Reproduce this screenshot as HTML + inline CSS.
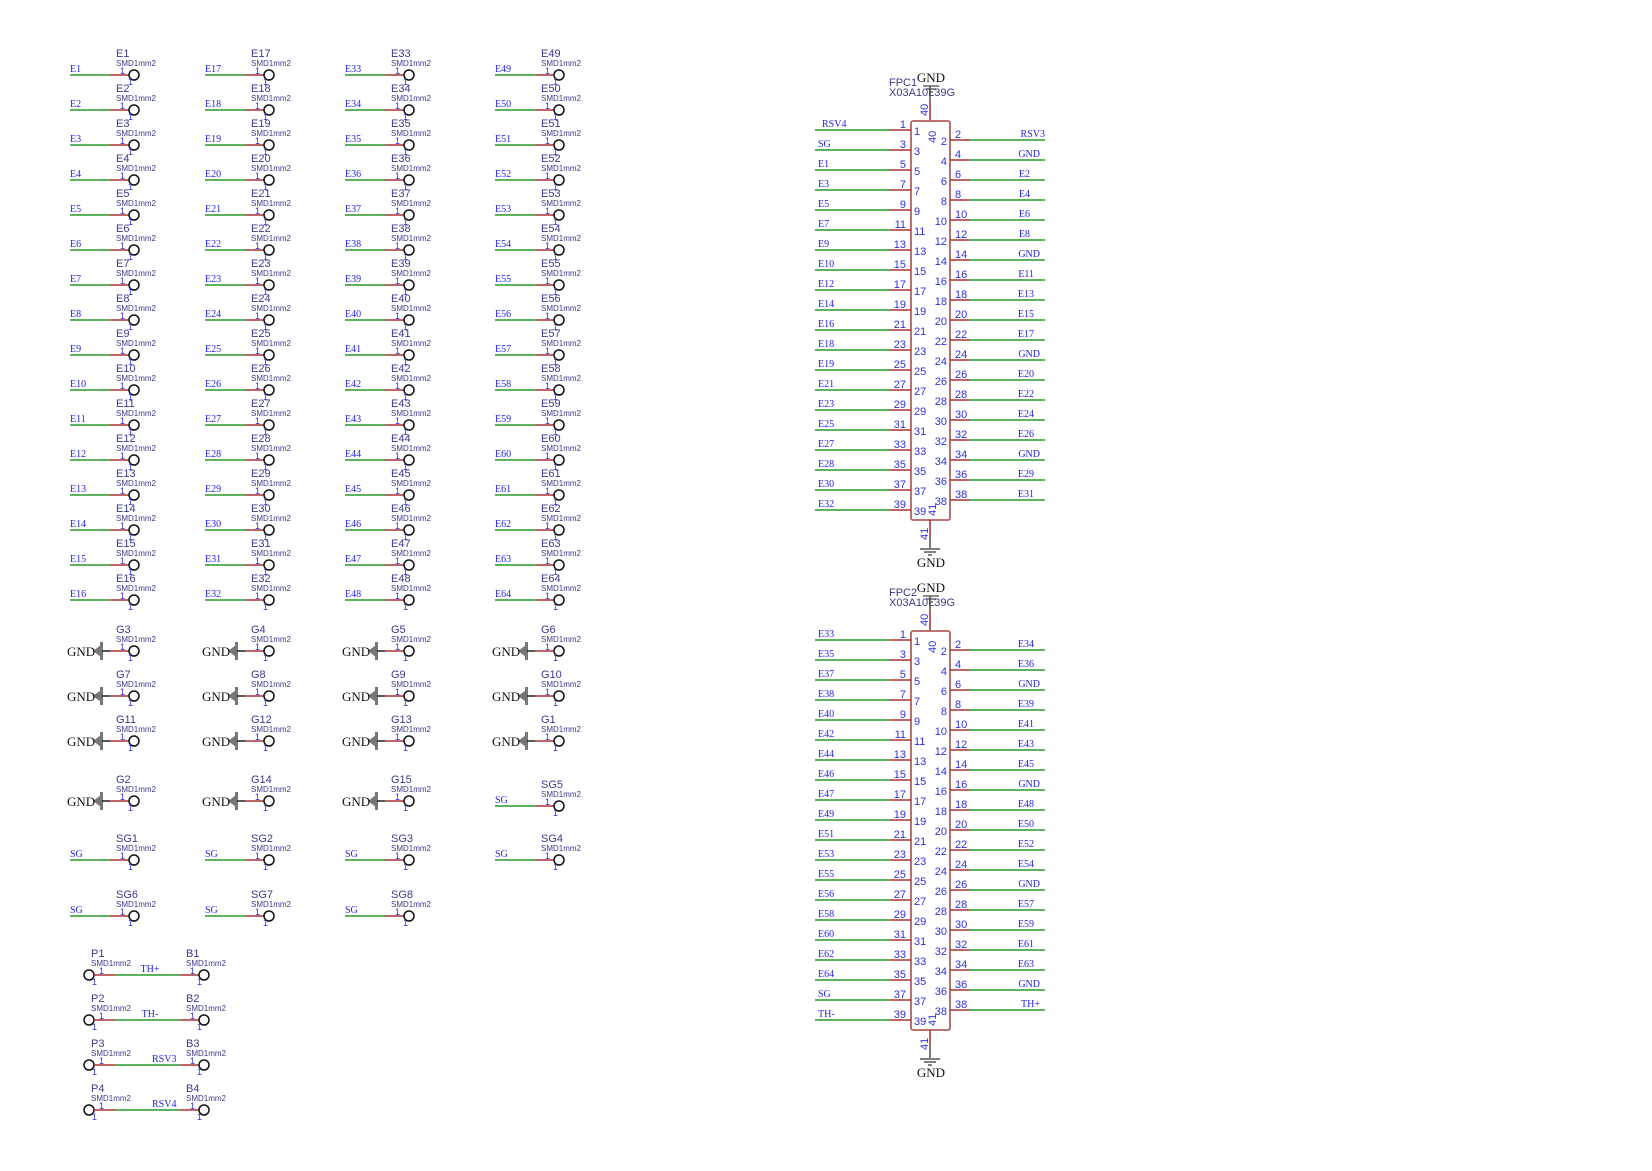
<!DOCTYPE html>
<html><head><meta charset="utf-8"><style>
html,body{margin:0;padding:0;background:#fff}
svg{display:block}
.g{stroke:#2a9a2a;stroke-width:1.6}
.r{stroke:#a83434;stroke-width:1.6}
.k{stroke:#111;stroke-width:1.4}
text{font-family:"Liberation Sans",sans-serif}
.l{font-family:"Liberation Serif",serif;font-size:10px;fill:#2424e0}
.le{font-family:"Liberation Serif",serif;font-size:10px;fill:#2424e0;text-anchor:end}
.lm{font-family:"Liberation Serif",serif;font-size:10px;fill:#2424e0;text-anchor:middle}
.n{font-size:11px;fill:#3a3a8c}
.s{font-size:8px;fill:#3a3a8c}
.p{font-size:9px;fill:#3030e0}
.pc{font-size:11px;fill:#3030e0}
.pe{font-size:11px;fill:#3030e0;text-anchor:end}
.gt{font-family:"Liberation Serif",serif;font-size:13px;fill:#111}
.gm{font-family:"Liberation Serif",serif;font-size:13px;fill:#111;text-anchor:middle}
</style></head><body>
<svg width="1652" height="1171" viewBox="0 0 1652 1171" xmlns="http://www.w3.org/2000/svg">
<defs>
<g id="pd"><line x1="0" x2="40" y1="0" y2="0" class="g"/><line x1="40" x2="59" y1="0" y2="0" class="r"/><circle cx="64" cy="0" r="5" fill="none" stroke="#111" stroke-width="1.5"/></g>
<g id="gd"><polygon points="23,0 31,-6 31,6" fill="#777"/><rect x="30" y="-9" width="3" height="18" fill="#777"/><line x1="32" x2="40" y1="0" y2="0" class="k"/><line x1="40" x2="59" y1="0" y2="0" class="r"/><circle cx="64" cy="0" r="5" fill="none" stroke="#111" stroke-width="1.5"/></g>
<g id="lp"><line x1="815" x2="890" y1="0" y2="0" class="g"/><line x1="890" x2="911" y1="0" y2="0" class="r"/></g>
<g id="rp"><line x1="950" x2="970" y1="0" y2="0" class="r"/><line x1="970" x2="1045" y1="0" y2="0" class="g"/></g>
</defs>

<!-- Column 1 -->
<g transform="translate(70,75)"><use href="#pd"/><text class="l" y="-3">E1</text><text class="n" x="46" y="-18">E1</text><text class="s" x="46" y="-9">SMD1mm2</text><text class="p" x="50" y="-1">1</text><text class="p" x="58" y="10">1</text></g>
<g transform="translate(70,110)"><use href="#pd"/><text class="l" y="-3">E2</text><text class="n" x="46" y="-18">E2</text><text class="s" x="46" y="-9">SMD1mm2</text><text class="p" x="50" y="-1">1</text><text class="p" x="58" y="10">1</text></g>
<g transform="translate(70,145)"><use href="#pd"/><text class="l" y="-3">E3</text><text class="n" x="46" y="-18">E3</text><text class="s" x="46" y="-9">SMD1mm2</text><text class="p" x="50" y="-1">1</text><text class="p" x="58" y="10">1</text></g>
<g transform="translate(70,180)"><use href="#pd"/><text class="l" y="-3">E4</text><text class="n" x="46" y="-18">E4</text><text class="s" x="46" y="-9">SMD1mm2</text><text class="p" x="50" y="-1">1</text><text class="p" x="58" y="10">1</text></g>
<g transform="translate(70,215)"><use href="#pd"/><text class="l" y="-3">E5</text><text class="n" x="46" y="-18">E5</text><text class="s" x="46" y="-9">SMD1mm2</text><text class="p" x="50" y="-1">1</text><text class="p" x="58" y="10">1</text></g>
<g transform="translate(70,250)"><use href="#pd"/><text class="l" y="-3">E6</text><text class="n" x="46" y="-18">E6</text><text class="s" x="46" y="-9">SMD1mm2</text><text class="p" x="50" y="-1">1</text><text class="p" x="58" y="10">1</text></g>
<g transform="translate(70,285)"><use href="#pd"/><text class="l" y="-3">E7</text><text class="n" x="46" y="-18">E7</text><text class="s" x="46" y="-9">SMD1mm2</text><text class="p" x="50" y="-1">1</text><text class="p" x="58" y="10">1</text></g>
<g transform="translate(70,320)"><use href="#pd"/><text class="l" y="-3">E8</text><text class="n" x="46" y="-18">E8</text><text class="s" x="46" y="-9">SMD1mm2</text><text class="p" x="50" y="-1">1</text><text class="p" x="58" y="10">1</text></g>
<g transform="translate(70,355)"><use href="#pd"/><text class="l" y="-3">E9</text><text class="n" x="46" y="-18">E9</text><text class="s" x="46" y="-9">SMD1mm2</text><text class="p" x="50" y="-1">1</text><text class="p" x="58" y="10">1</text></g>
<g transform="translate(70,390)"><use href="#pd"/><text class="l" y="-3">E10</text><text class="n" x="46" y="-18">E10</text><text class="s" x="46" y="-9">SMD1mm2</text><text class="p" x="50" y="-1">1</text><text class="p" x="58" y="10">1</text></g>
<g transform="translate(70,425)"><use href="#pd"/><text class="l" y="-3">E11</text><text class="n" x="46" y="-18">E11</text><text class="s" x="46" y="-9">SMD1mm2</text><text class="p" x="50" y="-1">1</text><text class="p" x="58" y="10">1</text></g>
<g transform="translate(70,460)"><use href="#pd"/><text class="l" y="-3">E12</text><text class="n" x="46" y="-18">E12</text><text class="s" x="46" y="-9">SMD1mm2</text><text class="p" x="50" y="-1">1</text><text class="p" x="58" y="10">1</text></g>
<g transform="translate(70,495)"><use href="#pd"/><text class="l" y="-3">E13</text><text class="n" x="46" y="-18">E13</text><text class="s" x="46" y="-9">SMD1mm2</text><text class="p" x="50" y="-1">1</text><text class="p" x="58" y="10">1</text></g>
<g transform="translate(70,530)"><use href="#pd"/><text class="l" y="-3">E14</text><text class="n" x="46" y="-18">E14</text><text class="s" x="46" y="-9">SMD1mm2</text><text class="p" x="50" y="-1">1</text><text class="p" x="58" y="10">1</text></g>
<g transform="translate(70,565)"><use href="#pd"/><text class="l" y="-3">E15</text><text class="n" x="46" y="-18">E15</text><text class="s" x="46" y="-9">SMD1mm2</text><text class="p" x="50" y="-1">1</text><text class="p" x="58" y="10">1</text></g>
<g transform="translate(70,600)"><use href="#pd"/><text class="l" y="-3">E16</text><text class="n" x="46" y="-18">E16</text><text class="s" x="46" y="-9">SMD1mm2</text><text class="p" x="50" y="-1">1</text><text class="p" x="58" y="10">1</text></g>

<!-- Column 2 -->
<g transform="translate(205,75)"><use href="#pd"/><text class="l" y="-3">E17</text><text class="n" x="46" y="-18">E17</text><text class="s" x="46" y="-9">SMD1mm2</text><text class="p" x="50" y="-1">1</text><text class="p" x="58" y="10">1</text></g>
<g transform="translate(205,110)"><use href="#pd"/><text class="l" y="-3">E18</text><text class="n" x="46" y="-18">E18</text><text class="s" x="46" y="-9">SMD1mm2</text><text class="p" x="50" y="-1">1</text><text class="p" x="58" y="10">1</text></g>
<g transform="translate(205,145)"><use href="#pd"/><text class="l" y="-3">E19</text><text class="n" x="46" y="-18">E19</text><text class="s" x="46" y="-9">SMD1mm2</text><text class="p" x="50" y="-1">1</text><text class="p" x="58" y="10">1</text></g>
<g transform="translate(205,180)"><use href="#pd"/><text class="l" y="-3">E20</text><text class="n" x="46" y="-18">E20</text><text class="s" x="46" y="-9">SMD1mm2</text><text class="p" x="50" y="-1">1</text><text class="p" x="58" y="10">1</text></g>
<g transform="translate(205,215)"><use href="#pd"/><text class="l" y="-3">E21</text><text class="n" x="46" y="-18">E21</text><text class="s" x="46" y="-9">SMD1mm2</text><text class="p" x="50" y="-1">1</text><text class="p" x="58" y="10">1</text></g>
<g transform="translate(205,250)"><use href="#pd"/><text class="l" y="-3">E22</text><text class="n" x="46" y="-18">E22</text><text class="s" x="46" y="-9">SMD1mm2</text><text class="p" x="50" y="-1">1</text><text class="p" x="58" y="10">1</text></g>
<g transform="translate(205,285)"><use href="#pd"/><text class="l" y="-3">E23</text><text class="n" x="46" y="-18">E23</text><text class="s" x="46" y="-9">SMD1mm2</text><text class="p" x="50" y="-1">1</text><text class="p" x="58" y="10">1</text></g>
<g transform="translate(205,320)"><use href="#pd"/><text class="l" y="-3">E24</text><text class="n" x="46" y="-18">E24</text><text class="s" x="46" y="-9">SMD1mm2</text><text class="p" x="50" y="-1">1</text><text class="p" x="58" y="10">1</text></g>
<g transform="translate(205,355)"><use href="#pd"/><text class="l" y="-3">E25</text><text class="n" x="46" y="-18">E25</text><text class="s" x="46" y="-9">SMD1mm2</text><text class="p" x="50" y="-1">1</text><text class="p" x="58" y="10">1</text></g>
<g transform="translate(205,390)"><use href="#pd"/><text class="l" y="-3">E26</text><text class="n" x="46" y="-18">E26</text><text class="s" x="46" y="-9">SMD1mm2</text><text class="p" x="50" y="-1">1</text><text class="p" x="58" y="10">1</text></g>
<g transform="translate(205,425)"><use href="#pd"/><text class="l" y="-3">E27</text><text class="n" x="46" y="-18">E27</text><text class="s" x="46" y="-9">SMD1mm2</text><text class="p" x="50" y="-1">1</text><text class="p" x="58" y="10">1</text></g>
<g transform="translate(205,460)"><use href="#pd"/><text class="l" y="-3">E28</text><text class="n" x="46" y="-18">E28</text><text class="s" x="46" y="-9">SMD1mm2</text><text class="p" x="50" y="-1">1</text><text class="p" x="58" y="10">1</text></g>
<g transform="translate(205,495)"><use href="#pd"/><text class="l" y="-3">E29</text><text class="n" x="46" y="-18">E29</text><text class="s" x="46" y="-9">SMD1mm2</text><text class="p" x="50" y="-1">1</text><text class="p" x="58" y="10">1</text></g>
<g transform="translate(205,530)"><use href="#pd"/><text class="l" y="-3">E30</text><text class="n" x="46" y="-18">E30</text><text class="s" x="46" y="-9">SMD1mm2</text><text class="p" x="50" y="-1">1</text><text class="p" x="58" y="10">1</text></g>
<g transform="translate(205,565)"><use href="#pd"/><text class="l" y="-3">E31</text><text class="n" x="46" y="-18">E31</text><text class="s" x="46" y="-9">SMD1mm2</text><text class="p" x="50" y="-1">1</text><text class="p" x="58" y="10">1</text></g>
<g transform="translate(205,600)"><use href="#pd"/><text class="l" y="-3">E32</text><text class="n" x="46" y="-18">E32</text><text class="s" x="46" y="-9">SMD1mm2</text><text class="p" x="50" y="-1">1</text><text class="p" x="58" y="10">1</text></g>

<!-- Column 3 -->
<g transform="translate(345,75)"><use href="#pd"/><text class="l" y="-3">E33</text><text class="n" x="46" y="-18">E33</text><text class="s" x="46" y="-9">SMD1mm2</text><text class="p" x="50" y="-1">1</text><text class="p" x="58" y="10">1</text></g>
<g transform="translate(345,110)"><use href="#pd"/><text class="l" y="-3">E34</text><text class="n" x="46" y="-18">E34</text><text class="s" x="46" y="-9">SMD1mm2</text><text class="p" x="50" y="-1">1</text><text class="p" x="58" y="10">1</text></g>
<g transform="translate(345,145)"><use href="#pd"/><text class="l" y="-3">E35</text><text class="n" x="46" y="-18">E35</text><text class="s" x="46" y="-9">SMD1mm2</text><text class="p" x="50" y="-1">1</text><text class="p" x="58" y="10">1</text></g>
<g transform="translate(345,180)"><use href="#pd"/><text class="l" y="-3">E36</text><text class="n" x="46" y="-18">E36</text><text class="s" x="46" y="-9">SMD1mm2</text><text class="p" x="50" y="-1">1</text><text class="p" x="58" y="10">1</text></g>
<g transform="translate(345,215)"><use href="#pd"/><text class="l" y="-3">E37</text><text class="n" x="46" y="-18">E37</text><text class="s" x="46" y="-9">SMD1mm2</text><text class="p" x="50" y="-1">1</text><text class="p" x="58" y="10">1</text></g>
<g transform="translate(345,250)"><use href="#pd"/><text class="l" y="-3">E38</text><text class="n" x="46" y="-18">E38</text><text class="s" x="46" y="-9">SMD1mm2</text><text class="p" x="50" y="-1">1</text><text class="p" x="58" y="10">1</text></g>
<g transform="translate(345,285)"><use href="#pd"/><text class="l" y="-3">E39</text><text class="n" x="46" y="-18">E39</text><text class="s" x="46" y="-9">SMD1mm2</text><text class="p" x="50" y="-1">1</text><text class="p" x="58" y="10">1</text></g>
<g transform="translate(345,320)"><use href="#pd"/><text class="l" y="-3">E40</text><text class="n" x="46" y="-18">E40</text><text class="s" x="46" y="-9">SMD1mm2</text><text class="p" x="50" y="-1">1</text><text class="p" x="58" y="10">1</text></g>
<g transform="translate(345,355)"><use href="#pd"/><text class="l" y="-3">E41</text><text class="n" x="46" y="-18">E41</text><text class="s" x="46" y="-9">SMD1mm2</text><text class="p" x="50" y="-1">1</text><text class="p" x="58" y="10">1</text></g>
<g transform="translate(345,390)"><use href="#pd"/><text class="l" y="-3">E42</text><text class="n" x="46" y="-18">E42</text><text class="s" x="46" y="-9">SMD1mm2</text><text class="p" x="50" y="-1">1</text><text class="p" x="58" y="10">1</text></g>
<g transform="translate(345,425)"><use href="#pd"/><text class="l" y="-3">E43</text><text class="n" x="46" y="-18">E43</text><text class="s" x="46" y="-9">SMD1mm2</text><text class="p" x="50" y="-1">1</text><text class="p" x="58" y="10">1</text></g>
<g transform="translate(345,460)"><use href="#pd"/><text class="l" y="-3">E44</text><text class="n" x="46" y="-18">E44</text><text class="s" x="46" y="-9">SMD1mm2</text><text class="p" x="50" y="-1">1</text><text class="p" x="58" y="10">1</text></g>
<g transform="translate(345,495)"><use href="#pd"/><text class="l" y="-3">E45</text><text class="n" x="46" y="-18">E45</text><text class="s" x="46" y="-9">SMD1mm2</text><text class="p" x="50" y="-1">1</text><text class="p" x="58" y="10">1</text></g>
<g transform="translate(345,530)"><use href="#pd"/><text class="l" y="-3">E46</text><text class="n" x="46" y="-18">E46</text><text class="s" x="46" y="-9">SMD1mm2</text><text class="p" x="50" y="-1">1</text><text class="p" x="58" y="10">1</text></g>
<g transform="translate(345,565)"><use href="#pd"/><text class="l" y="-3">E47</text><text class="n" x="46" y="-18">E47</text><text class="s" x="46" y="-9">SMD1mm2</text><text class="p" x="50" y="-1">1</text><text class="p" x="58" y="10">1</text></g>
<g transform="translate(345,600)"><use href="#pd"/><text class="l" y="-3">E48</text><text class="n" x="46" y="-18">E48</text><text class="s" x="46" y="-9">SMD1mm2</text><text class="p" x="50" y="-1">1</text><text class="p" x="58" y="10">1</text></g>

<!-- Column 4 -->
<g transform="translate(495,75)"><use href="#pd"/><text class="l" y="-3">E49</text><text class="n" x="46" y="-18">E49</text><text class="s" x="46" y="-9">SMD1mm2</text><text class="p" x="50" y="-1">1</text><text class="p" x="58" y="10">1</text></g>
<g transform="translate(495,110)"><use href="#pd"/><text class="l" y="-3">E50</text><text class="n" x="46" y="-18">E50</text><text class="s" x="46" y="-9">SMD1mm2</text><text class="p" x="50" y="-1">1</text><text class="p" x="58" y="10">1</text></g>
<g transform="translate(495,145)"><use href="#pd"/><text class="l" y="-3">E51</text><text class="n" x="46" y="-18">E51</text><text class="s" x="46" y="-9">SMD1mm2</text><text class="p" x="50" y="-1">1</text><text class="p" x="58" y="10">1</text></g>
<g transform="translate(495,180)"><use href="#pd"/><text class="l" y="-3">E52</text><text class="n" x="46" y="-18">E52</text><text class="s" x="46" y="-9">SMD1mm2</text><text class="p" x="50" y="-1">1</text><text class="p" x="58" y="10">1</text></g>
<g transform="translate(495,215)"><use href="#pd"/><text class="l" y="-3">E53</text><text class="n" x="46" y="-18">E53</text><text class="s" x="46" y="-9">SMD1mm2</text><text class="p" x="50" y="-1">1</text><text class="p" x="58" y="10">1</text></g>
<g transform="translate(495,250)"><use href="#pd"/><text class="l" y="-3">E54</text><text class="n" x="46" y="-18">E54</text><text class="s" x="46" y="-9">SMD1mm2</text><text class="p" x="50" y="-1">1</text><text class="p" x="58" y="10">1</text></g>
<g transform="translate(495,285)"><use href="#pd"/><text class="l" y="-3">E55</text><text class="n" x="46" y="-18">E55</text><text class="s" x="46" y="-9">SMD1mm2</text><text class="p" x="50" y="-1">1</text><text class="p" x="58" y="10">1</text></g>
<g transform="translate(495,320)"><use href="#pd"/><text class="l" y="-3">E56</text><text class="n" x="46" y="-18">E56</text><text class="s" x="46" y="-9">SMD1mm2</text><text class="p" x="50" y="-1">1</text><text class="p" x="58" y="10">1</text></g>
<g transform="translate(495,355)"><use href="#pd"/><text class="l" y="-3">E57</text><text class="n" x="46" y="-18">E57</text><text class="s" x="46" y="-9">SMD1mm2</text><text class="p" x="50" y="-1">1</text><text class="p" x="58" y="10">1</text></g>
<g transform="translate(495,390)"><use href="#pd"/><text class="l" y="-3">E58</text><text class="n" x="46" y="-18">E58</text><text class="s" x="46" y="-9">SMD1mm2</text><text class="p" x="50" y="-1">1</text><text class="p" x="58" y="10">1</text></g>
<g transform="translate(495,425)"><use href="#pd"/><text class="l" y="-3">E59</text><text class="n" x="46" y="-18">E59</text><text class="s" x="46" y="-9">SMD1mm2</text><text class="p" x="50" y="-1">1</text><text class="p" x="58" y="10">1</text></g>
<g transform="translate(495,460)"><use href="#pd"/><text class="l" y="-3">E60</text><text class="n" x="46" y="-18">E60</text><text class="s" x="46" y="-9">SMD1mm2</text><text class="p" x="50" y="-1">1</text><text class="p" x="58" y="10">1</text></g>
<g transform="translate(495,495)"><use href="#pd"/><text class="l" y="-3">E61</text><text class="n" x="46" y="-18">E61</text><text class="s" x="46" y="-9">SMD1mm2</text><text class="p" x="50" y="-1">1</text><text class="p" x="58" y="10">1</text></g>
<g transform="translate(495,530)"><use href="#pd"/><text class="l" y="-3">E62</text><text class="n" x="46" y="-18">E62</text><text class="s" x="46" y="-9">SMD1mm2</text><text class="p" x="50" y="-1">1</text><text class="p" x="58" y="10">1</text></g>
<g transform="translate(495,565)"><use href="#pd"/><text class="l" y="-3">E63</text><text class="n" x="46" y="-18">E63</text><text class="s" x="46" y="-9">SMD1mm2</text><text class="p" x="50" y="-1">1</text><text class="p" x="58" y="10">1</text></g>
<g transform="translate(495,600)"><use href="#pd"/><text class="l" y="-3">E64</text><text class="n" x="46" y="-18">E64</text><text class="s" x="46" y="-9">SMD1mm2</text><text class="p" x="50" y="-1">1</text><text class="p" x="58" y="10">1</text></g>

<!-- GND pads -->
<g transform="translate(70,651)"><use href="#gd"/><text class="gt" x="-3" y="5">GND</text><text class="n" x="46" y="-18">G3</text><text class="s" x="46" y="-9">SMD1mm2</text><text class="p" x="50" y="-1">1</text><text class="p" x="58" y="10">1</text></g>
<g transform="translate(205,651)"><use href="#gd"/><text class="gt" x="-3" y="5">GND</text><text class="n" x="46" y="-18">G4</text><text class="s" x="46" y="-9">SMD1mm2</text><text class="p" x="50" y="-1">1</text><text class="p" x="58" y="10">1</text></g>
<g transform="translate(345,651)"><use href="#gd"/><text class="gt" x="-3" y="5">GND</text><text class="n" x="46" y="-18">G5</text><text class="s" x="46" y="-9">SMD1mm2</text><text class="p" x="50" y="-1">1</text><text class="p" x="58" y="10">1</text></g>
<g transform="translate(495,651)"><use href="#gd"/><text class="gt" x="-3" y="5">GND</text><text class="n" x="46" y="-18">G6</text><text class="s" x="46" y="-9">SMD1mm2</text><text class="p" x="50" y="-1">1</text><text class="p" x="58" y="10">1</text></g>
<g transform="translate(70,696)"><use href="#gd"/><text class="gt" x="-3" y="5">GND</text><text class="n" x="46" y="-18">G7</text><text class="s" x="46" y="-9">SMD1mm2</text><text class="p" x="50" y="-1">1</text><text class="p" x="58" y="10">1</text></g>
<g transform="translate(205,696)"><use href="#gd"/><text class="gt" x="-3" y="5">GND</text><text class="n" x="46" y="-18">G8</text><text class="s" x="46" y="-9">SMD1mm2</text><text class="p" x="50" y="-1">1</text><text class="p" x="58" y="10">1</text></g>
<g transform="translate(345,696)"><use href="#gd"/><text class="gt" x="-3" y="5">GND</text><text class="n" x="46" y="-18">G9</text><text class="s" x="46" y="-9">SMD1mm2</text><text class="p" x="50" y="-1">1</text><text class="p" x="58" y="10">1</text></g>
<g transform="translate(495,696)"><use href="#gd"/><text class="gt" x="-3" y="5">GND</text><text class="n" x="46" y="-18">G10</text><text class="s" x="46" y="-9">SMD1mm2</text><text class="p" x="50" y="-1">1</text><text class="p" x="58" y="10">1</text></g>
<g transform="translate(70,741)"><use href="#gd"/><text class="gt" x="-3" y="5">GND</text><text class="n" x="46" y="-18">G11</text><text class="s" x="46" y="-9">SMD1mm2</text><text class="p" x="50" y="-1">1</text><text class="p" x="58" y="10">1</text></g>
<g transform="translate(205,741)"><use href="#gd"/><text class="gt" x="-3" y="5">GND</text><text class="n" x="46" y="-18">G12</text><text class="s" x="46" y="-9">SMD1mm2</text><text class="p" x="50" y="-1">1</text><text class="p" x="58" y="10">1</text></g>
<g transform="translate(345,741)"><use href="#gd"/><text class="gt" x="-3" y="5">GND</text><text class="n" x="46" y="-18">G13</text><text class="s" x="46" y="-9">SMD1mm2</text><text class="p" x="50" y="-1">1</text><text class="p" x="58" y="10">1</text></g>
<g transform="translate(495,741)"><use href="#gd"/><text class="gt" x="-3" y="5">GND</text><text class="n" x="46" y="-18">G1</text><text class="s" x="46" y="-9">SMD1mm2</text><text class="p" x="50" y="-1">1</text><text class="p" x="58" y="10">1</text></g>
<g transform="translate(70,801)"><use href="#gd"/><text class="gt" x="-3" y="5">GND</text><text class="n" x="46" y="-18">G2</text><text class="s" x="46" y="-9">SMD1mm2</text><text class="p" x="50" y="-1">1</text><text class="p" x="58" y="10">1</text></g>
<g transform="translate(205,801)"><use href="#gd"/><text class="gt" x="-3" y="5">GND</text><text class="n" x="46" y="-18">G14</text><text class="s" x="46" y="-9">SMD1mm2</text><text class="p" x="50" y="-1">1</text><text class="p" x="58" y="10">1</text></g>
<g transform="translate(345,801)"><use href="#gd"/><text class="gt" x="-3" y="5">GND</text><text class="n" x="46" y="-18">G15</text><text class="s" x="46" y="-9">SMD1mm2</text><text class="p" x="50" y="-1">1</text><text class="p" x="58" y="10">1</text></g>

<!-- SG pads -->
<g transform="translate(495,806)"><use href="#pd"/><text class="l" y="-3">SG</text><text class="n" x="46" y="-18">SG5</text><text class="s" x="46" y="-9">SMD1mm2</text><text class="p" x="50" y="-1">1</text><text class="p" x="58" y="10">1</text></g>
<g transform="translate(70,860)"><use href="#pd"/><text class="l" y="-3">SG</text><text class="n" x="46" y="-18">SG1</text><text class="s" x="46" y="-9">SMD1mm2</text><text class="p" x="50" y="-1">1</text><text class="p" x="58" y="10">1</text></g>
<g transform="translate(205,860)"><use href="#pd"/><text class="l" y="-3">SG</text><text class="n" x="46" y="-18">SG2</text><text class="s" x="46" y="-9">SMD1mm2</text><text class="p" x="50" y="-1">1</text><text class="p" x="58" y="10">1</text></g>
<g transform="translate(345,860)"><use href="#pd"/><text class="l" y="-3">SG</text><text class="n" x="46" y="-18">SG3</text><text class="s" x="46" y="-9">SMD1mm2</text><text class="p" x="50" y="-1">1</text><text class="p" x="58" y="10">1</text></g>
<g transform="translate(495,860)"><use href="#pd"/><text class="l" y="-3">SG</text><text class="n" x="46" y="-18">SG4</text><text class="s" x="46" y="-9">SMD1mm2</text><text class="p" x="50" y="-1">1</text><text class="p" x="58" y="10">1</text></g>
<g transform="translate(70,916)"><use href="#pd"/><text class="l" y="-3">SG</text><text class="n" x="46" y="-18">SG6</text><text class="s" x="46" y="-9">SMD1mm2</text><text class="p" x="50" y="-1">1</text><text class="p" x="58" y="10">1</text></g>
<g transform="translate(205,916)"><use href="#pd"/><text class="l" y="-3">SG</text><text class="n" x="46" y="-18">SG7</text><text class="s" x="46" y="-9">SMD1mm2</text><text class="p" x="50" y="-1">1</text><text class="p" x="58" y="10">1</text></g>
<g transform="translate(345,916)"><use href="#pd"/><text class="l" y="-3">SG</text><text class="n" x="46" y="-18">SG8</text><text class="s" x="46" y="-9">SMD1mm2</text><text class="p" x="50" y="-1">1</text><text class="p" x="58" y="10">1</text></g>

<!-- P/B pairs -->
<g transform="translate(0,975)">
<circle cx="89" cy="0" r="5" fill="none" stroke="#111" stroke-width="1.5"/><line x1="94" x2="115" y1="0" y2="0" class="r"/><line x1="115" x2="180" y1="0" y2="0" class="g"/><line x1="180" x2="199" y1="0" y2="0" class="r"/><circle cx="204" cy="0" r="5" fill="none" stroke="#111" stroke-width="1.5"/>
<text class="n" x="91" y="-18">P1</text><text class="s" x="91" y="-9">SMD1mm2</text><text class="p" x="99" y="-1">1</text><text class="p" x="92" y="10">1</text>
<text class="n" x="186" y="-18">B1</text><text class="s" x="186" y="-9">SMD1mm2</text><text class="p" x="190" y="-1">1</text><text class="p" x="197" y="10">1</text>
<text class="lm" x="150" y="-3">TH+</text></g>
<g transform="translate(0,1020)">
<circle cx="89" cy="0" r="5" fill="none" stroke="#111" stroke-width="1.5"/><line x1="94" x2="115" y1="0" y2="0" class="r"/><line x1="115" x2="180" y1="0" y2="0" class="g"/><line x1="180" x2="199" y1="0" y2="0" class="r"/><circle cx="204" cy="0" r="5" fill="none" stroke="#111" stroke-width="1.5"/>
<text class="n" x="91" y="-18">P2</text><text class="s" x="91" y="-9">SMD1mm2</text><text class="p" x="99" y="-1">1</text><text class="p" x="92" y="10">1</text>
<text class="n" x="186" y="-18">B2</text><text class="s" x="186" y="-9">SMD1mm2</text><text class="p" x="190" y="-1">1</text><text class="p" x="197" y="10">1</text>
<text class="lm" x="150" y="-3">TH-</text></g>
<g transform="translate(0,1065)">
<circle cx="89" cy="0" r="5" fill="none" stroke="#111" stroke-width="1.5"/><line x1="94" x2="115" y1="0" y2="0" class="r"/><line x1="115" x2="180" y1="0" y2="0" class="g"/><line x1="180" x2="199" y1="0" y2="0" class="r"/><circle cx="204" cy="0" r="5" fill="none" stroke="#111" stroke-width="1.5"/>
<text class="n" x="91" y="-18">P3</text><text class="s" x="91" y="-9">SMD1mm2</text><text class="p" x="99" y="-1">1</text><text class="p" x="92" y="10">1</text>
<text class="n" x="186" y="-18">B3</text><text class="s" x="186" y="-9">SMD1mm2</text><text class="p" x="190" y="-1">1</text><text class="p" x="197" y="10">1</text>
<text class="l" x="152" y="-3">RSV3</text></g>
<g transform="translate(0,1110)">
<circle cx="89" cy="0" r="5" fill="none" stroke="#111" stroke-width="1.5"/><line x1="94" x2="115" y1="0" y2="0" class="r"/><line x1="115" x2="180" y1="0" y2="0" class="g"/><line x1="180" x2="199" y1="0" y2="0" class="r"/><circle cx="204" cy="0" r="5" fill="none" stroke="#111" stroke-width="1.5"/>
<text class="n" x="91" y="-18">P4</text><text class="s" x="91" y="-9">SMD1mm2</text><text class="p" x="99" y="-1">1</text><text class="p" x="92" y="10">1</text>
<text class="n" x="186" y="-18">B4</text><text class="s" x="186" y="-9">SMD1mm2</text><text class="p" x="190" y="-1">1</text><text class="p" x="197" y="10">1</text>
<text class="l" x="152" y="-3">RSV4</text></g>

<!-- FPC1 -->
<g>
<text class="gm" x="931" y="82">GND</text>
<line x1="923" x2="939" y1="86" y2="86" stroke="#666" stroke-width="1.5"/><line x1="926" x2="936" y1="89" y2="89" stroke="#666" stroke-width="1.5"/><line x1="929" x2="933" y1="92" y2="92" stroke="#666" stroke-width="1.5"/>
<line x1="930" x2="930" y1="86" y2="100" stroke="#555" stroke-width="1.6"/><line x1="930" x2="930" y1="100" y2="121" class="r"/>
<text class="n" x="889" y="86">FPC1</text><text class="n" x="889" y="96">X03A10L39G</text>
<text class="pc" transform="translate(928,116) rotate(-90)">40</text>
<text class="pc" transform="translate(936,143) rotate(-90)">40</text>
<rect x="911" y="121" width="39" height="399" rx="2" fill="none" stroke="#b06060" stroke-width="1.8"/>
<text class="pc" transform="translate(936,516) rotate(-90)">41</text>
<text class="pc" transform="translate(928,540) rotate(-90)">41</text>
<line x1="930" x2="930" y1="520" y2="536" class="r"/><line x1="930" x2="930" y1="536" y2="548" stroke="#555" stroke-width="1.6"/>
<line x1="920" x2="940" y1="549" y2="549" stroke="#555" stroke-width="1.5"/><line x1="924" x2="936" y1="552" y2="552" stroke="#555" stroke-width="1.5"/><line x1="928" x2="932" y1="555" y2="555" stroke="#555" stroke-width="1.5"/>
<text class="gm" x="931" y="567">GND</text>

<g transform="translate(0,130)"><use href="#lp"/><text class="l" x="822" y="-3">RSV4</text><text class="pe" x="906" y="-2">1</text><text class="pc" x="914" y="5">1</text></g>
<g transform="translate(0,150)"><use href="#lp"/><text class="l" x="818" y="-3">SG</text><text class="pe" x="906" y="-2">3</text><text class="pc" x="914" y="5">3</text></g>
<g transform="translate(0,170)"><use href="#lp"/><text class="l" x="818" y="-3">E1</text><text class="pe" x="906" y="-2">5</text><text class="pc" x="914" y="5">5</text></g>
<g transform="translate(0,190)"><use href="#lp"/><text class="l" x="818" y="-3">E3</text><text class="pe" x="906" y="-2">7</text><text class="pc" x="914" y="5">7</text></g>
<g transform="translate(0,210)"><use href="#lp"/><text class="l" x="818" y="-3">E5</text><text class="pe" x="906" y="-2">9</text><text class="pc" x="914" y="5">9</text></g>
<g transform="translate(0,230)"><use href="#lp"/><text class="l" x="818" y="-3">E7</text><text class="pe" x="906" y="-2">11</text><text class="pc" x="914" y="5">11</text></g>
<g transform="translate(0,250)"><use href="#lp"/><text class="l" x="818" y="-3">E9</text><text class="pe" x="906" y="-2">13</text><text class="pc" x="914" y="5">13</text></g>
<g transform="translate(0,270)"><use href="#lp"/><text class="l" x="818" y="-3">E10</text><text class="pe" x="906" y="-2">15</text><text class="pc" x="914" y="5">15</text></g>
<g transform="translate(0,290)"><use href="#lp"/><text class="l" x="818" y="-3">E12</text><text class="pe" x="906" y="-2">17</text><text class="pc" x="914" y="5">17</text></g>
<g transform="translate(0,310)"><use href="#lp"/><text class="l" x="818" y="-3">E14</text><text class="pe" x="906" y="-2">19</text><text class="pc" x="914" y="5">19</text></g>
<g transform="translate(0,330)"><use href="#lp"/><text class="l" x="818" y="-3">E16</text><text class="pe" x="906" y="-2">21</text><text class="pc" x="914" y="5">21</text></g>
<g transform="translate(0,350)"><use href="#lp"/><text class="l" x="818" y="-3">E18</text><text class="pe" x="906" y="-2">23</text><text class="pc" x="914" y="5">23</text></g>
<g transform="translate(0,370)"><use href="#lp"/><text class="l" x="818" y="-3">E19</text><text class="pe" x="906" y="-2">25</text><text class="pc" x="914" y="5">25</text></g>
<g transform="translate(0,390)"><use href="#lp"/><text class="l" x="818" y="-3">E21</text><text class="pe" x="906" y="-2">27</text><text class="pc" x="914" y="5">27</text></g>
<g transform="translate(0,410)"><use href="#lp"/><text class="l" x="818" y="-3">E23</text><text class="pe" x="906" y="-2">29</text><text class="pc" x="914" y="5">29</text></g>
<g transform="translate(0,430)"><use href="#lp"/><text class="l" x="818" y="-3">E25</text><text class="pe" x="906" y="-2">31</text><text class="pc" x="914" y="5">31</text></g>
<g transform="translate(0,450)"><use href="#lp"/><text class="l" x="818" y="-3">E27</text><text class="pe" x="906" y="-2">33</text><text class="pc" x="914" y="5">33</text></g>
<g transform="translate(0,470)"><use href="#lp"/><text class="l" x="818" y="-3">E28</text><text class="pe" x="906" y="-2">35</text><text class="pc" x="914" y="5">35</text></g>
<g transform="translate(0,490)"><use href="#lp"/><text class="l" x="818" y="-3">E30</text><text class="pe" x="906" y="-2">37</text><text class="pc" x="914" y="5">37</text></g>
<g transform="translate(0,510)"><use href="#lp"/><text class="l" x="818" y="-3">E32</text><text class="pe" x="906" y="-2">39</text><text class="pc" x="914" y="5">39</text></g>

<g transform="translate(0,140)"><use href="#rp"/><text class="le" x="1045" y="-3">RSV3</text><text class="pe" x="947" y="5">2</text><text class="pc" x="955" y="-2">2</text></g>
<g transform="translate(0,160)"><use href="#rp"/><text class="le" x="1040" y="-3">GND</text><text class="pe" x="947" y="5">4</text><text class="pc" x="955" y="-2">4</text></g>
<g transform="translate(0,180)"><use href="#rp"/><text class="le" x="1030" y="-3">E2</text><text class="pe" x="947" y="5">6</text><text class="pc" x="955" y="-2">6</text></g>
<g transform="translate(0,200)"><use href="#rp"/><text class="le" x="1030" y="-3">E4</text><text class="pe" x="947" y="5">8</text><text class="pc" x="955" y="-2">8</text></g>
<g transform="translate(0,220)"><use href="#rp"/><text class="le" x="1030" y="-3">E6</text><text class="pe" x="947" y="5">10</text><text class="pc" x="955" y="-2">10</text></g>
<g transform="translate(0,240)"><use href="#rp"/><text class="le" x="1030" y="-3">E8</text><text class="pe" x="947" y="5">12</text><text class="pc" x="955" y="-2">12</text></g>
<g transform="translate(0,260)"><use href="#rp"/><text class="le" x="1040" y="-3">GND</text><text class="pe" x="947" y="5">14</text><text class="pc" x="955" y="-2">14</text></g>
<g transform="translate(0,280)"><use href="#rp"/><text class="le" x="1034" y="-3">E11</text><text class="pe" x="947" y="5">16</text><text class="pc" x="955" y="-2">16</text></g>
<g transform="translate(0,300)"><use href="#rp"/><text class="le" x="1034" y="-3">E13</text><text class="pe" x="947" y="5">18</text><text class="pc" x="955" y="-2">18</text></g>
<g transform="translate(0,320)"><use href="#rp"/><text class="le" x="1034" y="-3">E15</text><text class="pe" x="947" y="5">20</text><text class="pc" x="955" y="-2">20</text></g>
<g transform="translate(0,340)"><use href="#rp"/><text class="le" x="1034" y="-3">E17</text><text class="pe" x="947" y="5">22</text><text class="pc" x="955" y="-2">22</text></g>
<g transform="translate(0,360)"><use href="#rp"/><text class="le" x="1040" y="-3">GND</text><text class="pe" x="947" y="5">24</text><text class="pc" x="955" y="-2">24</text></g>
<g transform="translate(0,380)"><use href="#rp"/><text class="le" x="1034" y="-3">E20</text><text class="pe" x="947" y="5">26</text><text class="pc" x="955" y="-2">26</text></g>
<g transform="translate(0,400)"><use href="#rp"/><text class="le" x="1034" y="-3">E22</text><text class="pe" x="947" y="5">28</text><text class="pc" x="955" y="-2">28</text></g>
<g transform="translate(0,420)"><use href="#rp"/><text class="le" x="1034" y="-3">E24</text><text class="pe" x="947" y="5">30</text><text class="pc" x="955" y="-2">30</text></g>
<g transform="translate(0,440)"><use href="#rp"/><text class="le" x="1034" y="-3">E26</text><text class="pe" x="947" y="5">32</text><text class="pc" x="955" y="-2">32</text></g>
<g transform="translate(0,460)"><use href="#rp"/><text class="le" x="1040" y="-3">GND</text><text class="pe" x="947" y="5">34</text><text class="pc" x="955" y="-2">34</text></g>
<g transform="translate(0,480)"><use href="#rp"/><text class="le" x="1034" y="-3">E29</text><text class="pe" x="947" y="5">36</text><text class="pc" x="955" y="-2">36</text></g>
<g transform="translate(0,500)"><use href="#rp"/><text class="le" x="1034" y="-3">E31</text><text class="pe" x="947" y="5">38</text><text class="pc" x="955" y="-2">38</text></g>
</g>

<!-- FPC2 -->
<g transform="translate(0,510)">
<text class="gm" x="931" y="82">GND</text>
<line x1="923" x2="939" y1="86" y2="86" stroke="#666" stroke-width="1.5"/><line x1="926" x2="936" y1="89" y2="89" stroke="#666" stroke-width="1.5"/><line x1="929" x2="933" y1="92" y2="92" stroke="#666" stroke-width="1.5"/>
<line x1="930" x2="930" y1="86" y2="100" stroke="#555" stroke-width="1.6"/><line x1="930" x2="930" y1="100" y2="121" class="r"/>
<text class="n" x="889" y="86">FPC2</text><text class="n" x="889" y="96">X03A10L39G</text>
<text class="pc" transform="translate(928,116) rotate(-90)">40</text>
<text class="pc" transform="translate(936,143) rotate(-90)">40</text>
<rect x="911" y="121" width="39" height="399" rx="2" fill="none" stroke="#b06060" stroke-width="1.8"/>
<text class="pc" transform="translate(936,516) rotate(-90)">41</text>
<text class="pc" transform="translate(928,540) rotate(-90)">41</text>
<line x1="930" x2="930" y1="520" y2="536" class="r"/><line x1="930" x2="930" y1="536" y2="548" stroke="#555" stroke-width="1.6"/>
<line x1="920" x2="940" y1="549" y2="549" stroke="#555" stroke-width="1.5"/><line x1="924" x2="936" y1="552" y2="552" stroke="#555" stroke-width="1.5"/><line x1="928" x2="932" y1="555" y2="555" stroke="#555" stroke-width="1.5"/>
<text class="gm" x="931" y="567">GND</text>

<g transform="translate(0,130)"><use href="#lp"/><text class="l" x="818" y="-3">E33</text><text class="pe" x="906" y="-2">1</text><text class="pc" x="914" y="5">1</text></g>
<g transform="translate(0,150)"><use href="#lp"/><text class="l" x="818" y="-3">E35</text><text class="pe" x="906" y="-2">3</text><text class="pc" x="914" y="5">3</text></g>
<g transform="translate(0,170)"><use href="#lp"/><text class="l" x="818" y="-3">E37</text><text class="pe" x="906" y="-2">5</text><text class="pc" x="914" y="5">5</text></g>
<g transform="translate(0,190)"><use href="#lp"/><text class="l" x="818" y="-3">E38</text><text class="pe" x="906" y="-2">7</text><text class="pc" x="914" y="5">7</text></g>
<g transform="translate(0,210)"><use href="#lp"/><text class="l" x="818" y="-3">E40</text><text class="pe" x="906" y="-2">9</text><text class="pc" x="914" y="5">9</text></g>
<g transform="translate(0,230)"><use href="#lp"/><text class="l" x="818" y="-3">E42</text><text class="pe" x="906" y="-2">11</text><text class="pc" x="914" y="5">11</text></g>
<g transform="translate(0,250)"><use href="#lp"/><text class="l" x="818" y="-3">E44</text><text class="pe" x="906" y="-2">13</text><text class="pc" x="914" y="5">13</text></g>
<g transform="translate(0,270)"><use href="#lp"/><text class="l" x="818" y="-3">E46</text><text class="pe" x="906" y="-2">15</text><text class="pc" x="914" y="5">15</text></g>
<g transform="translate(0,290)"><use href="#lp"/><text class="l" x="818" y="-3">E47</text><text class="pe" x="906" y="-2">17</text><text class="pc" x="914" y="5">17</text></g>
<g transform="translate(0,310)"><use href="#lp"/><text class="l" x="818" y="-3">E49</text><text class="pe" x="906" y="-2">19</text><text class="pc" x="914" y="5">19</text></g>
<g transform="translate(0,330)"><use href="#lp"/><text class="l" x="818" y="-3">E51</text><text class="pe" x="906" y="-2">21</text><text class="pc" x="914" y="5">21</text></g>
<g transform="translate(0,350)"><use href="#lp"/><text class="l" x="818" y="-3">E53</text><text class="pe" x="906" y="-2">23</text><text class="pc" x="914" y="5">23</text></g>
<g transform="translate(0,370)"><use href="#lp"/><text class="l" x="818" y="-3">E55</text><text class="pe" x="906" y="-2">25</text><text class="pc" x="914" y="5">25</text></g>
<g transform="translate(0,390)"><use href="#lp"/><text class="l" x="818" y="-3">E56</text><text class="pe" x="906" y="-2">27</text><text class="pc" x="914" y="5">27</text></g>
<g transform="translate(0,410)"><use href="#lp"/><text class="l" x="818" y="-3">E58</text><text class="pe" x="906" y="-2">29</text><text class="pc" x="914" y="5">29</text></g>
<g transform="translate(0,430)"><use href="#lp"/><text class="l" x="818" y="-3">E60</text><text class="pe" x="906" y="-2">31</text><text class="pc" x="914" y="5">31</text></g>
<g transform="translate(0,450)"><use href="#lp"/><text class="l" x="818" y="-3">E62</text><text class="pe" x="906" y="-2">33</text><text class="pc" x="914" y="5">33</text></g>
<g transform="translate(0,470)"><use href="#lp"/><text class="l" x="818" y="-3">E64</text><text class="pe" x="906" y="-2">35</text><text class="pc" x="914" y="5">35</text></g>
<g transform="translate(0,490)"><use href="#lp"/><text class="l" x="818" y="-3">SG</text><text class="pe" x="906" y="-2">37</text><text class="pc" x="914" y="5">37</text></g>
<g transform="translate(0,510)"><use href="#lp"/><text class="l" x="818" y="-3">TH-</text><text class="pe" x="906" y="-2">39</text><text class="pc" x="914" y="5">39</text></g>

<g transform="translate(0,140)"><use href="#rp"/><text class="le" x="1034" y="-3">E34</text><text class="pe" x="947" y="5">2</text><text class="pc" x="955" y="-2">2</text></g>
<g transform="translate(0,160)"><use href="#rp"/><text class="le" x="1034" y="-3">E36</text><text class="pe" x="947" y="5">4</text><text class="pc" x="955" y="-2">4</text></g>
<g transform="translate(0,180)"><use href="#rp"/><text class="le" x="1040" y="-3">GND</text><text class="pe" x="947" y="5">6</text><text class="pc" x="955" y="-2">6</text></g>
<g transform="translate(0,200)"><use href="#rp"/><text class="le" x="1034" y="-3">E39</text><text class="pe" x="947" y="5">8</text><text class="pc" x="955" y="-2">8</text></g>
<g transform="translate(0,220)"><use href="#rp"/><text class="le" x="1034" y="-3">E41</text><text class="pe" x="947" y="5">10</text><text class="pc" x="955" y="-2">10</text></g>
<g transform="translate(0,240)"><use href="#rp"/><text class="le" x="1034" y="-3">E43</text><text class="pe" x="947" y="5">12</text><text class="pc" x="955" y="-2">12</text></g>
<g transform="translate(0,260)"><use href="#rp"/><text class="le" x="1034" y="-3">E45</text><text class="pe" x="947" y="5">14</text><text class="pc" x="955" y="-2">14</text></g>
<g transform="translate(0,280)"><use href="#rp"/><text class="le" x="1040" y="-3">GND</text><text class="pe" x="947" y="5">16</text><text class="pc" x="955" y="-2">16</text></g>
<g transform="translate(0,300)"><use href="#rp"/><text class="le" x="1034" y="-3">E48</text><text class="pe" x="947" y="5">18</text><text class="pc" x="955" y="-2">18</text></g>
<g transform="translate(0,320)"><use href="#rp"/><text class="le" x="1034" y="-3">E50</text><text class="pe" x="947" y="5">20</text><text class="pc" x="955" y="-2">20</text></g>
<g transform="translate(0,340)"><use href="#rp"/><text class="le" x="1034" y="-3">E52</text><text class="pe" x="947" y="5">22</text><text class="pc" x="955" y="-2">22</text></g>
<g transform="translate(0,360)"><use href="#rp"/><text class="le" x="1034" y="-3">E54</text><text class="pe" x="947" y="5">24</text><text class="pc" x="955" y="-2">24</text></g>
<g transform="translate(0,380)"><use href="#rp"/><text class="le" x="1040" y="-3">GND</text><text class="pe" x="947" y="5">26</text><text class="pc" x="955" y="-2">26</text></g>
<g transform="translate(0,400)"><use href="#rp"/><text class="le" x="1034" y="-3">E57</text><text class="pe" x="947" y="5">28</text><text class="pc" x="955" y="-2">28</text></g>
<g transform="translate(0,420)"><use href="#rp"/><text class="le" x="1034" y="-3">E59</text><text class="pe" x="947" y="5">30</text><text class="pc" x="955" y="-2">30</text></g>
<g transform="translate(0,440)"><use href="#rp"/><text class="le" x="1034" y="-3">E61</text><text class="pe" x="947" y="5">32</text><text class="pc" x="955" y="-2">32</text></g>
<g transform="translate(0,460)"><use href="#rp"/><text class="le" x="1034" y="-3">E63</text><text class="pe" x="947" y="5">34</text><text class="pc" x="955" y="-2">34</text></g>
<g transform="translate(0,480)"><use href="#rp"/><text class="le" x="1040" y="-3">GND</text><text class="pe" x="947" y="5">36</text><text class="pc" x="955" y="-2">36</text></g>
<g transform="translate(0,500)"><use href="#rp"/><text class="le" x="1040" y="-3">TH+</text><text class="pe" x="947" y="5">38</text><text class="pc" x="955" y="-2">38</text></g>
</g>
</svg>
</body></html>
